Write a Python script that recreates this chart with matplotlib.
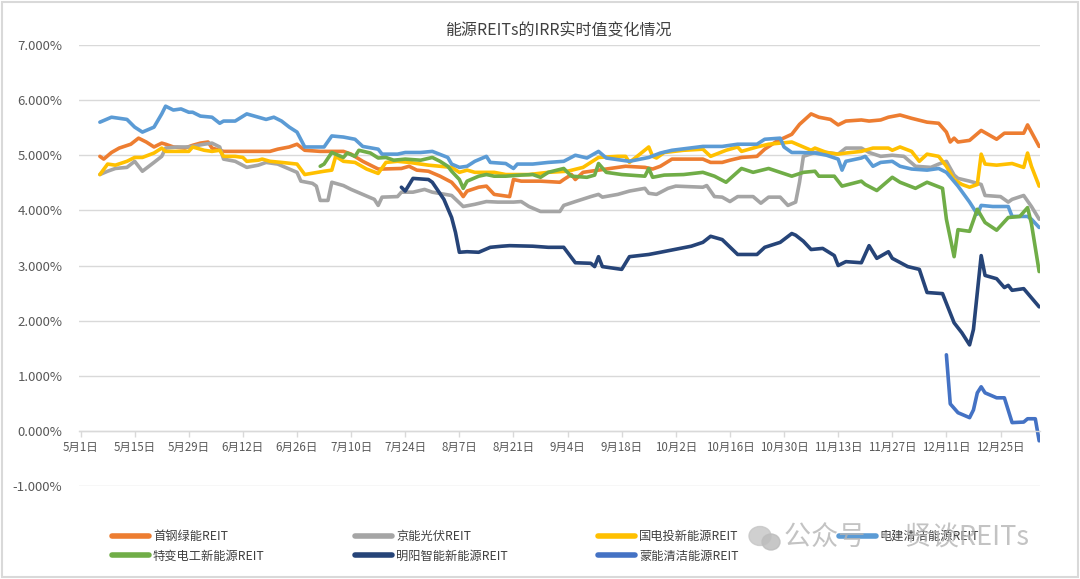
import matplotlib
matplotlib.use("Agg")
import matplotlib.pyplot as plt
import pandas as pd
from matplotlib.lines import Line2D
from matplotlib.patches import Rectangle, Ellipse

plt.rcParams['font.family'] = ['Noto Sans CJK SC', 'DejaVu Sans']

sg_dates = ["05-06", "05-07", "05-09", "05-11", "05-14", "05-16", "05-18", "05-20", "05-22", "05-23",
            "05-25", "05-28", "05-30", "06-01", "06-03", "06-04", "06-07", "06-11", "06-16", "06-19",
            "06-21", "06-24", "06-26", "06-28", "07-02", "07-08", "07-10", "07-13", "07-17", "07-18",
            "07-23", "07-25", "07-27", "07-30", "08-02", "08-05", "08-07", "08-08", "08-09", "08-12",
            "08-14", "08-16", "08-20", "08-21", "08-23", "08-28", "09-02", "09-03", "09-05", "09-06",
            "09-08", "09-12", "09-19", "09-24", "09-26", "09-28", "10-01", "10-09", "10-11", "10-14",
            "10-16", "10-19", "10-23", "10-25", "10-28", "11-01", "11-03", "11-06", "11-08", "11-11",
            "11-13", "11-15", "11-19", "11-21", "11-24", "11-26", "11-29", "12-02", "12-06", "12-09",
            "12-11", "12-12", "12-13", "12-14", "12-17", "12-20", "12-24", "12-26", "12-28", "12-31",
            "01-01", "01-02", "01-04"]
sg_irr = [4.98, 4.93, 5.05, 5.13, 5.20, 5.31, 5.24, 5.15, 5.22, 5.20,
          5.15, 5.13, 5.18, 5.22, 5.24, 5.13, 5.07, 5.07, 5.07, 5.07,
          5.11, 5.15, 5.20, 5.09, 5.07, 5.07, 5.02, 4.89, 4.75, 4.75,
          4.76, 4.80, 4.73, 4.71, 4.62, 4.51, 4.35, 4.25, 4.35, 4.42,
          4.44, 4.29, 4.25, 4.56, 4.53, 4.53, 4.51, 4.56, 4.65, 4.56,
          4.69, 4.73, 4.80, 4.78, 4.75, 4.80, 4.93, 4.93, 4.87, 4.87,
          4.91, 4.96, 4.98, 5.11, 5.25, 5.38, 5.56, 5.75, 5.69, 5.65,
          5.55, 5.62, 5.64, 5.62, 5.64, 5.69, 5.73, 5.67, 5.60, 5.58,
          5.42, 5.24, 5.31, 5.24, 5.27, 5.45, 5.29, 5.40, 5.40, 5.40,
          5.55, 5.42, 5.16]

jn_dates = ["05-06", "05-08", "05-10", "05-13", "05-15", "05-17", "05-20", "05-22", "05-23", "05-26",
            "05-29", "06-02", "06-04", "06-06", "06-07", "06-10", "06-13", "06-16", "06-18", "06-21",
            "06-24", "06-26", "06-27", "06-30", "07-01", "07-02", "07-04", "07-05", "07-08", "07-10",
            "07-13", "07-16", "07-17", "07-18", "07-22", "07-23", "07-26", "07-29", "07-31", "08-05",
            "08-08", "08-11", "08-14", "08-17", "08-21", "08-23", "08-25", "08-28", "09-02", "09-03",
            "09-06", "09-10", "09-12", "09-13", "09-17", "09-20", "09-24", "09-25", "09-27", "09-30",
            "10-02", "10-09", "10-10", "10-12", "10-14", "10-16", "10-18", "10-22", "10-24", "10-26",
            "10-29", "10-31", "11-02", "11-03", "11-04", "11-07", "11-10", "11-13", "11-15", "11-19",
            "11-21", "11-24", "11-27", "11-30", "12-03", "12-07", "12-09", "12-11", "12-13", "12-14",
            "12-17", "12-20", "12-21", "12-25", "12-27", "12-28", "12-31", "01-02", "01-04"]
jn_irr = [4.65, 4.71, 4.76, 4.78, 4.89, 4.71, 4.87, 4.98, 5.13, 5.15,
          5.15, 5.20, 5.22, 5.15, 4.93, 4.89, 4.78, 4.82, 4.87, 4.84,
          4.75, 4.69, 4.53, 4.49, 4.44, 4.18, 4.18, 4.51, 4.45, 4.38,
          4.29, 4.20, 4.09, 4.24, 4.25, 4.33, 4.33, 4.38, 4.33, 4.27,
          4.07, 4.11, 4.16, 4.15, 4.15, 4.16, 4.07, 3.98, 3.98, 4.09,
          4.16, 4.25, 4.29, 4.24, 4.29, 4.35, 4.40, 4.31, 4.29, 4.40,
          4.44, 4.42, 4.45, 4.25, 4.24, 4.16, 4.25, 4.25, 4.13, 4.24,
          4.24, 4.09, 4.15, 4.51, 4.98, 5.05, 5.05, 5.02, 5.13, 5.13,
          5.05, 4.98, 5.00, 4.98, 4.80, 4.78, 4.84, 4.89, 4.64, 4.58,
          4.53, 4.47, 4.27, 4.25, 4.15, 4.20, 4.27, 4.07, 3.84]

gd_dates = ["05-06", "05-08", "05-10", "05-13", "05-15", "05-17", "05-20", "05-22", "05-23", "05-27",
            "05-29", "05-30", "06-02", "06-04", "06-06", "06-07", "06-10", "06-12", "06-13", "06-16",
            "06-17", "06-19", "06-22", "06-26", "06-28", "07-03", "07-05", "07-06", "07-08", "07-11",
            "07-14", "07-17", "07-19", "07-22", "07-25", "07-30", "08-05", "08-07", "08-09", "08-11",
            "08-16", "08-19", "08-25", "08-30", "09-04", "09-08", "09-12", "09-17", "09-19", "09-20",
            "09-22", "09-25", "09-26", "09-27", "09-29", "10-04", "10-09", "10-11", "10-15", "10-18",
            "10-19", "10-23", "10-26", "11-01", "11-04", "11-06", "11-07", "11-10", "11-13", "11-15",
            "11-19", "11-22", "11-26", "11-27", "11-29", "12-02", "12-04", "12-06", "12-09", "12-11",
            "12-13", "12-15", "12-17", "12-19", "12-20", "12-21", "12-24", "12-28", "12-31", "01-01",
            "01-02", "01-04"]
gd_irr = [4.65, 4.84, 4.82, 4.89, 4.96, 4.96, 5.04, 5.13, 5.07, 5.07,
          5.07, 5.15, 5.09, 5.07, 5.09, 4.98, 4.98, 4.96, 4.89, 4.91,
          4.93, 4.89, 4.87, 4.84, 4.65, 4.71, 4.73, 4.98, 4.89, 4.87,
          4.75, 4.67, 4.87, 4.89, 4.87, 4.82, 4.78, 4.69, 4.73, 4.69,
          4.69, 4.65, 4.65, 4.69, 4.71, 4.78, 4.96, 4.98, 4.98, 4.87,
          4.98, 5.15, 4.98, 4.95, 5.05, 5.09, 5.11, 4.98, 5.09, 5.15,
          5.07, 5.15, 5.20, 5.24, 5.15, 5.09, 5.13, 5.05, 5.02, 5.04,
          5.07, 5.13, 5.13, 5.09, 5.15, 5.07, 4.89, 5.02, 4.98, 4.80,
          4.56, 4.47, 4.42, 4.47, 5.02, 4.84, 4.82, 4.85, 4.78, 5.04,
          4.80, 4.44]

dj_dates = ["05-06", "05-09", "05-11", "05-13", "05-15", "05-17", "05-20", "05-22", "05-23", "05-25",
            "05-27", "05-29", "05-30", "06-01", "06-04", "06-06", "06-07", "06-10", "06-13", "06-16",
            "06-18", "06-20", "06-22", "06-24", "06-26", "06-28", "06-30", "07-03", "07-05", "07-08",
            "07-11", "07-13", "07-17", "07-18", "07-22", "07-24", "07-28", "07-31", "08-04", "08-05",
            "08-07", "08-09", "08-11", "08-14", "08-15", "08-19", "08-21", "08-22", "08-26", "08-30",
            "09-03", "09-06", "09-09", "09-12", "09-14", "09-20", "09-25", "09-28", "10-01", "10-09",
            "10-14", "10-18", "10-23", "10-25", "10-29", "10-30", "11-01", "11-03", "11-07", "11-10",
            "11-13", "11-14", "11-15", "11-19", "11-20", "11-22", "11-24", "11-27", "11-29", "12-02",
            "12-06", "12-09", "12-11", "12-14", "12-17", "12-19", "12-20", "12-23", "12-27", "12-28",
            "01-01", "01-02", "01-04"]
dj_irr = [5.60, 5.69, 5.67, 5.65, 5.51, 5.42, 5.51, 5.75, 5.89, 5.82,
          5.84, 5.78, 5.78, 5.71, 5.69, 5.58, 5.62, 5.62, 5.75, 5.69,
          5.65, 5.69, 5.62, 5.51, 5.42, 5.15, 5.15, 5.15, 5.35, 5.33,
          5.29, 5.16, 5.11, 5.02, 5.02, 5.05, 5.05, 5.07, 4.96, 4.84,
          4.78, 4.80, 4.89, 4.98, 4.87, 4.85, 4.76, 4.84, 4.84, 4.87,
          4.89, 5.00, 4.95, 5.07, 4.95, 4.89, 4.96, 5.04, 5.09, 5.16,
          5.16, 5.20, 5.20, 5.29, 5.31, 5.15, 5.05, 5.05, 5.04, 5.00,
          4.93, 4.73, 4.89, 4.95, 4.98, 4.80, 4.87, 4.89, 4.80, 4.75,
          4.73, 4.76, 4.69, 4.44, 4.15, 3.93, 4.09, 4.07, 4.07, 3.89,
          3.89, 3.84, 3.69]

tb_dates = ["07-02", "07-03", "07-05", "07-08", "07-09", "07-11", "07-12", "07-15", "07-17", "07-19",
            "07-21", "07-24", "07-28", "07-31", "08-02", "08-04", "08-05", "08-07", "08-08", "08-09",
            "08-12", "08-14", "08-16", "08-19", "08-23", "08-26", "08-28", "08-30", "09-03", "09-05",
            "09-09", "09-11", "09-12", "09-14", "09-18", "09-24", "09-25", "09-26", "09-29", "10-04",
            "10-09", "10-12", "10-15", "10-19", "10-22", "10-26", "10-29", "11-01", "11-04", "11-07",
            "11-08", "11-12", "11-14", "11-19", "11-20", "11-23", "11-27", "11-29", "12-03", "12-06",
            "12-10", "12-11", "12-13", "12-14", "12-17", "12-19", "12-21", "12-24", "12-27", "12-30",
            "01-01", "01-02", "01-04"]
tb_irr = [4.80, 4.84, 5.05, 4.96, 5.04, 4.98, 5.09, 5.04, 4.95, 4.96,
          4.91, 4.93, 4.91, 4.96, 4.89, 4.80, 4.71, 4.56, 4.40, 4.53,
          4.62, 4.65, 4.62, 4.62, 4.64, 4.65, 4.60, 4.69, 4.76, 4.62,
          4.60, 4.64, 4.85, 4.69, 4.65, 4.62, 4.76, 4.60, 4.64, 4.65,
          4.69, 4.62, 4.51, 4.76, 4.69, 4.76, 4.69, 4.62, 4.69, 4.71,
          4.62, 4.62, 4.44, 4.53, 4.47, 4.36, 4.60, 4.51, 4.40, 4.51,
          4.40, 3.84, 3.16, 3.65, 3.62, 4.02, 3.78, 3.64, 3.87, 3.89,
          4.05, 3.76, 2.89]

my_dates = ["07-23", "07-24", "07-26", "07-30", "07-31", "08-03", "08-05", "08-06", "08-07", "08-09",
            "08-12", "08-15", "08-18", "08-20", "08-26", "08-30", "09-03", "09-06", "09-10", "09-11",
            "09-12", "09-13", "09-18", "09-20", "09-25", "09-28", "10-06", "10-09", "10-11", "10-14",
            "10-18", "10-23", "10-25", "10-29", "11-01", "11-02", "11-04", "11-06", "11-09", "11-12",
            "11-13", "11-15", "11-19", "11-21", "11-23", "11-26", "11-27", "12-01", "12-04", "12-06",
            "12-10", "12-13", "12-15", "12-17", "12-18", "12-20", "12-21", "12-24", "12-26", "12-27",
            "12-28", "12-31", "01-04"]
my_irr = [4.42, 4.35, 4.58, 4.56, 4.51, 4.20, 3.87, 3.60, 3.24, 3.25,
          3.24, 3.33, 3.35, 3.36, 3.35, 3.33, 3.33, 3.05, 3.04, 2.98,
          3.16, 2.98, 2.93, 3.16, 3.20, 3.24, 3.35, 3.42, 3.53, 3.47,
          3.20, 3.20, 3.33, 3.42, 3.58, 3.55, 3.44, 3.29, 3.31, 3.18,
          3.00, 3.07, 3.05, 3.36, 3.13, 3.25, 3.13, 2.98, 2.93, 2.51,
          2.49, 1.96, 1.78, 1.56, 1.84, 3.18, 2.82, 2.76, 2.60, 2.64,
          2.55, 2.58, 2.25]

mn_dates = ["12-11", "12-12", "12-14", "12-17", "12-18", "12-19", "12-20", "12-21", "12-24", "12-26",
            "12-28", "12-31", "01-01", "01-03", "01-04"]
mn_irr = [1.38, 0.49, 0.33, 0.24, 0.38, 0.69, 0.80, 0.69, 0.60, 0.60,
          0.15, 0.16, 0.22, 0.22, -0.18]

names = ["首钢绿能REIT", "京能光伏REIT", "国电投新能源REIT", "电建清洁能源REIT",
         "特变电工新能源REIT", "明阳智能新能源REIT", "蒙能清洁能源REIT"]
colors = ["#ED7D31", "#A5A5A5", "#FFC000", "#5B9BD5", "#70AD47", "#264478", "#4472C4"]
series = [(sg_dates, sg_irr), (jn_dates, jn_irr), (gd_dates, gd_irr), (dj_dates, dj_irr),
          (tb_dates, tb_irr), (my_dates, my_irr), (mn_dates, mn_irr)]


def to_dates(md):
    # the data runs from May into early January of the next year
    return [pd.Timestamp(("2024-" if s.startswith("01") else "2023-") + s) for s in md]


base = pd.Timestamp("2023-05-01")

fig = plt.figure(figsize=(10.8, 5.79), dpi=100)
ax = fig.add_axes([0.0731, 0.1606, 0.8898, 0.7617])

for (d, v), c in zip(series, colors):
    ax.plot(to_dates(d), v, color=c, lw=2.6, solid_joinstyle='round', solid_capstyle='round')

ax.set_ylim(-1, 7)
ax.set_xlim(base - pd.Timedelta(hours=10), base + pd.Timedelta(days=248.2))
ax.set_yticks(range(-1, 8))
ax.set_yticklabels([f"{v:.3f}%" for v in range(-1, 8)])
ax.yaxis.grid(True, color='#D9D9D9', lw=1)
ax.set_axisbelow(True)

xt = pd.date_range("2023-05-01", "2023-12-25", freq="14D")
ax.set_xticks(xt)
ax.set_xticklabels([f"{t.month}月{t.day}日" for t in xt], fontweight='bold')

for s in ['left', 'right', 'top']:
    ax.spines[s].set_visible(False)
ax.spines['bottom'].set_position(('data', 0))
ax.spines['bottom'].set_color('#D9D9D9')
ax.spines['bottom'].set_linewidth(1)

ax.tick_params(axis='y', length=0, pad=12, labelsize=9.5, labelcolor='#595959')
ax.tick_params(axis='x', length=4, width=1, color='#D9D9D9', pad=3, labelsize=8.3, labelcolor='#595959')

fig.text(558 / 1080, 1 - 31 / 579, "能源REITs的IRR实时值变化情况", ha='center', va='center',
         fontsize=11.5, color='#404040')

# legend in two rows, four fixed columns
col_x = [112, 355, 598, 839]
cols = [[0, 4], [1, 5], [2, 6], [3]]
for x, idx in zip(col_x, cols):
    handles = [Line2D([], [], color=colors[i], lw=4, solid_capstyle='round') for i in idx]
    fig.legend(handles, [names[i] for i in idx], loc='upper left',
               bbox_to_anchor=(x / 1080, 1 - 530 / 579), frameon=False, fontsize=8.8,
               handlelength=3.0, handletextpad=0.35, labelspacing=0.55,
               borderpad=0, borderaxespad=0, labelcolor='#404040')

# watermark
fig.patches.append(Ellipse((760 / 1080, 1 - 536 / 579), 22 / 1080, 19 / 579,
                           transform=fig.transFigure, color='#c8c8c8', alpha=0.85, zorder=10))
fig.patches.append(Ellipse((771 / 1080, 1 - 542 / 579), 18 / 1080, 16 / 579,
                           transform=fig.transFigure, color='#bdbdbd', alpha=0.85, zorder=11))
fig.text(784 / 1080, 1 - 538 / 579, "公众号 · 贤谈REITs", ha='left', va='center',
         fontsize=19.5, color='#b4b4b4', alpha=0.8, zorder=12)

fig.patches.append(Rectangle((0.002, 0.003), 0.996, 0.994, transform=fig.transFigure,
                             fill=False, edgecolor='#D9D9D9', lw=1.5))

fig.savefig("out.png", dpi=100, facecolor='white')
